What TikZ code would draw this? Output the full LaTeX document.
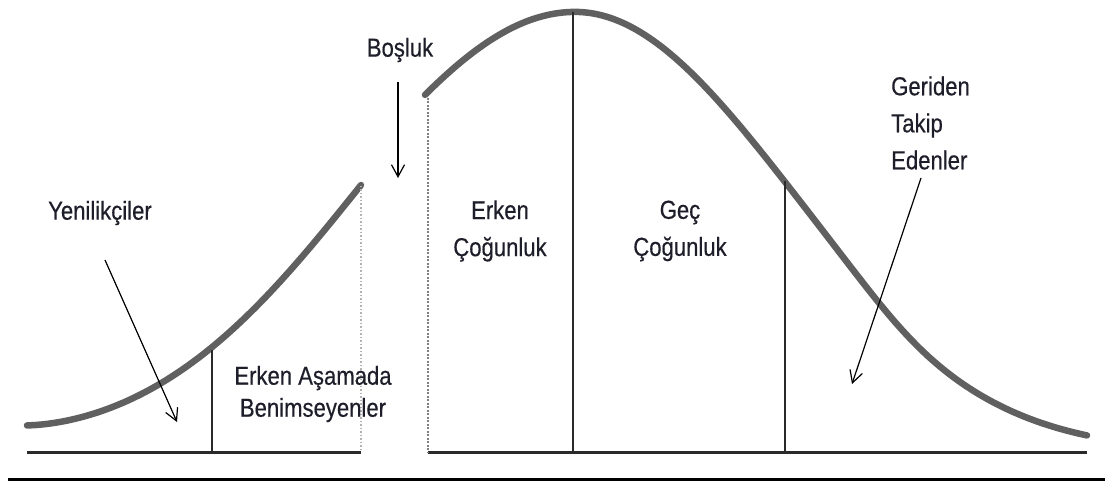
\documentclass[tikz,border=0pt]{standalone}
\usepackage{fontspec}
\newfontfamily\lab{Liberation Sans}[FakeStretch=0.85,FakeBold=0.4]
\usetikzlibrary{arrows.meta}
\definecolor{curvegray}{HTML}{606060}
\definecolor{basegray}{HTML}{2A2A2A}
\definecolor{txt}{HTML}{1E1E2A}
\tikzset{
  bell/.style={draw=curvegray, line width=6.5pt, line cap=round, line join=round},
  baseline line/.style={draw=basegray, line width=3pt},
  divider/.style={draw=basegray, line width=2.4pt},
  pointer/.style={draw=black, line width=1.2pt, -{Straight Barb[length=12pt,width=13pt,line width=1.2pt]}},
  lbl/.style={text=txt, font=\lab\fontsize{26}{37}\selectfont, align=center, inner sep=0pt},
}
\begin{document}
\begin{tikzpicture}[x=1pt, y=-1pt,
  declare function={
    sigR(\t) = (\t<575) ? 232 : (200+13/(1+exp((\t-880)/30)));
    lefty(\t) = 452-440*exp(-0.5*((\t-575)/214)^2)-10*exp(-(\t-27)/60);
    righty(\t) = 452-440*exp(-0.5*((\t-575)/sigR(\t))^2);
  }]
\useasboundingbox (0,0) rectangle (1105,481);
% bottom rule
\draw[line width=3pt, black] (8,479.5) -- (1105,479.5);
% baselines
\draw[baseline line] (27,452) -- (361,452);
\draw[baseline line] (428,452) -- (1087,452);
% left curve
\draw[bell] plot[domain=27:361, samples=80] (\x, {lefty(\x)});
% right curve
\draw[bell] plot[domain=425:1087, samples=160] (\x, {righty(\x)});
% gap edges
\draw[draw=gray!60, line width=1.5pt, dotted] (361,186) -- (361,452);
\draw[draw=gray, line width=2pt, dash pattern=on 2pt off 1.5pt] (428,98) -- (428,452);
% dividers
\draw[divider] (212,350) -- (212,452);
\draw[divider] (573,12) -- (573,452);
\draw[divider] (785,181) -- (785,452);
% labels
\node[lbl] (bos) at (400,50) {Boşluk};
\node[lbl] (yen) at (100,213) {Yenilikçiler};
\node[lbl, font=\lab\fontsize{26}{32}\selectfont] (eas) at (313,394) {Erken Aşamada\\Benimseyenler};
\node[lbl] (ec) at (500,231) {Erken\\Çoğunluk};
\node[lbl] (gc) at (680,231) {Geç\\Çoğunluk};
\node[lbl, align=left, anchor=west] (gte) at (891,123) {Geriden\\Takip\\Edenler};
% arrows
\coordinate (bosS) at (398,82);
\coordinate (bosE) at (398,178);
\coordinate (yenS) at (105,260);
\coordinate (yenE) at (177,422);
\coordinate (gteS) at (921,178);
\coordinate (gteE) at (852,384);
\draw[pointer] (bosS) -- (bosE);
\draw[pointer] (yenS) -- (yenE);
\draw[pointer] (gteS) -- (gteE);
\end{tikzpicture}
\end{document}
